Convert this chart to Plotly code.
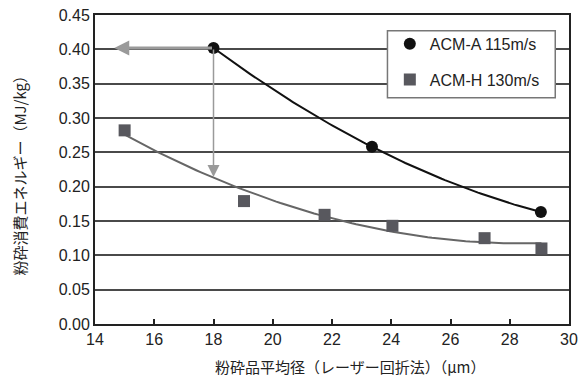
import numpy as np
import plotly.graph_objects as go

# Data
a_x = [18.0, 23.35, 29.05]
a_y = [0.402, 0.258, 0.163]
h_x = [15.0, 19.03, 21.75, 24.04, 27.15, 29.07]
h_y = [0.282, 0.179, 0.159, 0.143, 0.125, 0.110]
a_name = "ACM-A 115m/s"
h_name = "ACM-H 130m/s"
x_ticks = [14, 16, 18, 20, 22, 24, 26, 28, 30]
y_ticks = [0.00, 0.05, 0.10, 0.15, 0.20, 0.25, 0.30, 0.35, 0.40, 0.45]
x_title = "粉砕品平均径（レーザー回折法）（μm）"
y_title = "粉砕消費エネルギー（MJ/kg）"
arrow_h = {"from": (18.0, 0.402), "to": (14.65, 0.402)}
arrow_v = {"from": (18.0, 0.402), "to": (18.0, 0.214)}

# quadratic trendlines (fit of the data)
ca = np.polyfit(a_x, a_y, 2)
ch = np.polyfit(h_x, h_y, 2)
ax_fit = np.linspace(a_x[0], a_x[-1], 100)
hx_fit = np.linspace(h_x[0], h_x[-1], 100)

fig = go.Figure()
fig.add_trace(go.Scatter(x=ax_fit, y=np.polyval(ca, ax_fit), mode="lines",
                         line=dict(color="#111111", width=2), showlegend=False, hoverinfo="skip"))
fig.add_trace(go.Scatter(x=hx_fit, y=np.polyval(ch, hx_fit), mode="lines",
                         line=dict(color="#666666", width=2), showlegend=False, hoverinfo="skip"))

# arrows
fig.add_annotation(x=arrow_h["to"][0], y=arrow_h["to"][1], ax=arrow_h["from"][0], ay=arrow_h["from"][1],
                   xref="x", yref="y", axref="x", ayref="y", text="", showarrow=True,
                   arrowhead=2, arrowsize=1.0, arrowwidth=3, arrowcolor="#9a9a9a")
fig.add_annotation(x=arrow_v["to"][0], y=arrow_v["to"][1], ax=arrow_v["from"][0], ay=arrow_v["from"][1],
                   xref="x", yref="y", axref="x", ayref="y", text="", showarrow=True,
                   arrowhead=2, arrowsize=1.6, arrowwidth=1.5, arrowcolor="#9a9a9a")

fig.add_trace(go.Scatter(x=a_x, y=a_y, mode="markers", name=a_name, legendgroup="a",
                         marker=dict(symbol="circle", size=12, color="#111111")))
fig.add_trace(go.Scatter(x=h_x, y=h_y, mode="markers", name=h_name, legendgroup="h",
                         marker=dict(symbol="square", size=12, color="#58585e")))

# legend box
fig.add_shape(type="rect", xref="paper", yref="paper", x0=0.617, x1=0.971, y0=0.732, y1=0.949,
              line=dict(color="#777777", width=1.5), fillcolor="white", layer="above")

# axis titles
fig.add_annotation(text=x_title, xref="paper", yref="paper", x=0.538, y=-0.137,
                   xanchor="center", yanchor="middle", showarrow=False,
                   font=dict(size=15, family="Noto Sans CJK JP", color="#222222"))
fig.add_annotation(text=y_title, xref="paper", yref="paper", x=-0.159, y=0.492,
                   xanchor="center", yanchor="middle", showarrow=False, textangle=-90,
                   font=dict(size=15, family="Noto Sans CJK JP", color="#222222"))

fig.update_layout(
    width=585, height=378,
    margin=dict(l=95, r=7, t=10, b=54),
    paper_bgcolor="white", plot_bgcolor="white",
    font=dict(family="Liberation Sans, Noto Sans CJK JP", size=16, color="#222222"),
    legend=dict(x=0.622, y=0.962, xanchor="left", yanchor="top",
                bgcolor="rgba(0,0,0,0)", borderwidth=0,
                font=dict(size=16), itemsizing="constant", tracegroupgap=12),
    showlegend=True,
)
fig.update_xaxes(range=[14, 30], tickvals=x_ticks, ticktext=[str(t) for t in x_ticks],
                 showgrid=False, showline=True, linecolor="#222222", linewidth=2, mirror=True,
                 ticks="inside", ticklen=5, tickwidth=1.5, tickcolor="#222222",
                 tickfont=dict(size=16), zeroline=False)
fig.update_yaxes(range=[0, 0.45], tickvals=y_ticks, ticktext=[f"{t:.2f}" for t in y_ticks],
                 showgrid=True, gridcolor="#4a4a4a", gridwidth=2,
                 showline=True, linecolor="#222222", linewidth=2, mirror=True,
                 ticks="", tickfont=dict(size=16), zeroline=False)

fig.write_html("out.html", config={"displayModeBar": False},
               post_script="document.body.style.margin='0px';")
